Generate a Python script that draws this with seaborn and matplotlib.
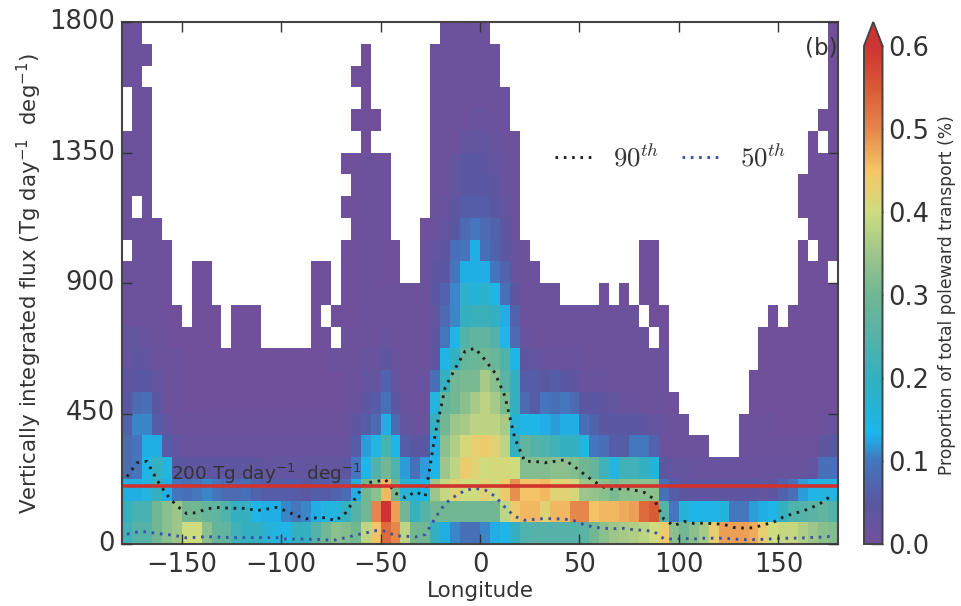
#!/usr/bin/env python3
"""
Poleward transport by longitude and vertically integrated flux, with percentile lines.
"""

import numpy as np
import pandas as pd
import seaborn as sns
import matplotlib.pyplot as plt
from matplotlib.colors import LinearSegmentedColormap

_ = np.nan

# cell values in hundredths of a percent, rows from the lowest flux bin upward, 72 longitude bins
r00 = [22,25,25,30,33,35,40,40,33,28,27,22, 20,20,17,15,14,20,20,25,30,33,32,30, 38,45,53,50,38,30,30,20,13,11,9,9, 11,13,14,20,24,25,25,25,25,25,26,30, 33,35,36,37,38,40,44,33,30,33,36,43, 48,48,48,47,43,40,39,39,37,35,33,32]
r01 = [20,23,23,30,33,35,30,30,28,27,24,20, 20,14,13,13,11,10,11,13,15,15,20,25, 30,50,60,48,30,20,25,30,30,30,30,30, 30,30,38,44,46,46,42,46,46,50,50,45, 46,46,47,48,53,55,25,10,16,14,14,14, 16,10,10,12,13,14,20,24,25,26,27,25]
r02 = [13,13,15,20,13,10,9,10,11,10,8,8, 9,7,6,6,6,6,5,6,6,7,8,13, 30,33,46,30,17,16,14,35,39,42,40,40, 42,40,44,49,45,45,46,42,42,41,35,34, 33,31,33,33,33,33,9,6,4,4,4,4, 4,4,4,4,3,4,7,9,12,14,15,15]
r03 = [8,10,14,20,15,5,4,4,4,4,4,4, 4,4,3,3,3,3,3,3,3,3,4,10, 14,25,30,24,12,9,12,14,35,38,44,42, 40,41,41,40,32,32,32,33,33,32,30,28, 22,15,22,22,20,16,4,3,3,2,2,2, 2,2,2,2,2,2,2,2,2,3,9,9]
r04 = [8,10,13,13,6,3,2,2,2,2,2,2, 2,2,2,2,2,2,2,2,2,2,2,6, 12,15,23,14,6,5,5,13,33,37,41,43, 44,42,38,20,27,25,24,22,20,20,15,10, 9,6,6,10,10,7,1,1,1,1,1,_, _,_,1,1,1,1,1,1,1,1,4,5]
r05 = [7,11,11,6,3,1,1,1,1,1,1,1, 1,1,1,1,1,1,1,1,1,1,1,4, 6,8,13,8,3,2,2,20,30,35,36,38, 38,38,36,16,14,14,13,12,13,13,9,7, 5,5,5,5,4,3,2,1,1,_,_,_, _,_,1,1,1,1,0,0,0,0,1,2]
r06 = [5,8,9,5,1,1,0,0,0,0,0,0, 0,0,0,0,0,0,0,0,0,0,1,2, 4,6,9,5,2,1,1,15,28,30,33,36, 38,36,31,20,8,6,10,9,10,8,5,5, 4,3,2,2,1,1,1,0,_,_,_,_, _,_,_,0,0,0,0,0,0,0,0,0]
r07 = [4,5,5,3,1,1,0,0,0,0,0,0, 0,0,0,0,0,0,0,0,0,0,1,1, 3,3,7,3,1,1,2,9,20,30,31,31, 36,33,26,20,6,6,5,6,5,4,2,2, 2,1,1,1,1,1,1,_,_,_,_,_, _,_,_,0,0,0,0,0,0,0,0,0]
r08 = [3,4,3,1,1,1,0,0,0,0,0,0, 0,0,0,0,0,0,0,0,0,1,1,1, 2,2,4,2,1,1,1,4,14,20,28,29, 30,29,24,14,4,3,2,2,2,2,1,1, 1,1,1,1,1,1,1,_,_,_,_,_, _,_,_,_,0,0,0,0,0,0,0,0]
r09 = [3,3,2,1,1,0,0,0,0,0,_,0, 0,0]+[_]*5+[0,0,_, 1,1,1,1,2,1,1,1,1,4,10,14,25,27, 27,25,14,8,2,1,1,1,1,1,1,1, 1,1,1,1,1,_,0]+[_]*9+[0]*8
r10 = [1,1,1,1,0,0,_,0,0,0,_,0, 0,0]+[_]*5+[0,_,0, 0,0,1,1,1,1,1,1,1,3,8,11,20,21, 21,20,13,7,1,1,1,1,1,1,1,1, 1,1,1,1,_,0,0]+[_]*10+[0,_,0,0,0,0,0]
r11 = [1,1,1,1,0,_,_,0,0]+[_]*10+[0,0,_, 0,0,1,1,1,1,1,1,1,5,7,11,18,16, 18,14,9,4,1,1,1,1]+[_]*4+[0,_,0,_,0,0]+[_]*14+[0,0,0,0]
r12 = [1,1,1,1,0,_,_,0,0]+[_]*10+[0,0,_, 0,0,1,1,0,0]+[_]*2+[1,4,5,10,13,13, 13,10,7,2,1,1]+[_]*10+[0,0]+[_]*14+[0,0,0,_]
r13 = [_,1,1,1,0]+[_]*17+[0,0,1,1,0,0]+[_]*2+[1,3,4,9,10,13, 9,7,5,2,1]+[_]*11+[0,0]+[_]*14+[0,_,0,0]
r14 = [1,1,1,1]+[_]*19+[0,1,1,0]+[_]*3+[0,1,3,5,8,10, 8,7,4,1]+[_]*29+[0,0,0]
r15 = [1,_,1]+[_]*19+[0,0,1,1,0]+[_]*4+[1,2,4,6,6, 6,5,3,1]+[_]*28+[0,0,0,0]
r16 = [1,1,1]+[_]*20+[0,1,1,0]+[_]*4+[1,1,3,5,5, 5,4,2,1]+[_]*28+[0,0,0,0]
r17 = [1,1,1]+[_]*19+[0,0,1,1,0]+[_]*4+[1,1,3,5,5, 4,3,2,1]+[_]*29+[0,0,0]
r18 = [1,1,1]+[_]*21+[0]+[_]*6+[1,1,1,3,3, 3,2,1,1]+[_]*29+[0,_,0]
r19 = [_,1,1]+[_]*20+[0,0,0]+[_]*5+[1,1,1,1,2, 2,1,1]+[_]*31+[0,0]
r20 = [_,1,1]+[_]*21+[0]+[_]*6+[1,1,1,1,1, 1,1,1]+[_]*32+[0]
r21 = [1,1]+[_]*21+[0,0]+[_]*6+[1,1,1,1,1,1, 1]+[_]*33+[0]
r22 = [1,1,1]+[_]*21+[0]+[_]*6+[1,1,1,1,1,1, 1]+[_]*33+[0]
r23 = [1,1]+[_]*30+[1,1,1,1, 1]+[_]*34+[0]
flux_rows = [r00,r01,r02,r03,r04,r05,r06,r07,r08,r09,r10,r11,r12,r13,r14,r15,r16,r17,r18,r19,r20,r21,r22,r23]

lon_centres = np.arange(-177.5, 180, 5)
flux_bins = np.arange(37.5, 1800, 75)

p90 = [232,280,285,222,170,132,105,108,121,126,124,123, 123,115,120,126,114,98,87,90,91,80,108,160,
       211,215,222,175,160,180,165,380,540,605,665,675, 635,590,510,365,285,285,280,285,290,267,240,215,
       195,188,192,186,178,155,85,63,78,71,72,70, 68,57,55,56,66,75,93,105,114,128,145,172]
p50 = [34,41,42,36,33,28,21,23,25,24,23,22, 22,22,22,22,17,17,17,16,14,14,22,31,
       38,46,44,28,27,24,33,90,140,165,185,192, 186,165,127,95,82,85,88,87,86,80,66,58,
       54,53,54,49,47,43,18,17,19,17,20,20, 20,17,15,15,16,18,20,20,21,23,24,27]

x_ticks = [-150, -100, -50, 0, 50, 100, 150]
y_ticks = [0, 450, 900, 1350, 1800]
cbar_ticks = [0.0, 0.1, 0.2, 0.3, 0.4, 0.5, 0.6]
threshold = 200

cmap_colors = [(0.0, "#70509B"), (0.05, "#5A58A3"), (0.10, "#4277BE"), (0.133, "#1DB5EA"),
               (0.20, "#34B0C0"), (0.25, "#55B2A8"), (0.30, "#70B794"), (0.35, "#9DC68A"),
               (0.40, "#CEDC7E"), (0.45, "#F5C568"), (0.50, "#E5874A"), (0.55, "#D85B35"),
               (0.60, "#CE3333")]

sns.set_theme(style="white")
plt.rcParams["font.family"] = ["DejaVu Sans"]
plt.rcParams["mathtext.fontset"] = "cm"
plt.rcParams["mathtext.default"] = "regular"

cmap = LinearSegmentedColormap.from_list("transport", [(v / 0.6, c) for v, c in cmap_colors])
cmap.set_over("#CE3333")
cmap.set_bad("white")

W, H = 961, 606
fig = plt.figure(figsize=(W / 100, H / 100), dpi=100)
ax = fig.add_axes([122 / W, 1 - 544 / H, 716 / W, 522 / H])
cax = fig.add_axes([864 / W, 1 - 544 / H, 18.5 / W, 522 / H])

grid = pd.DataFrame(np.array(flux_rows, dtype=float) / 100, index=flux_bins, columns=lon_centres)
sns.heatmap(grid, ax=ax, cmap=cmap, vmin=0, vmax=0.6, cbar_ax=cax,
            cbar_kws=dict(extend="max", extendfrac=0.048, ticks=cbar_ticks),
            xticklabels=False, yticklabels=False)
ax.set_ylim(0, len(flux_bins))
ax.set_axisbelow(False)

ink = "#333333"
lines = pd.DataFrame(dict(x=(lon_centres + 180) / 5, p90=np.array(p90) / 75, p50=np.array(p50) / 75))
sns.lineplot(data=lines, x="x", y="p90", ax=ax, color="#222222", lw=2.1, ls=(0, (0.9, 1.95)),
             estimator=None, label=r"$\mathrm{90}^{\mathit{th}}$")
sns.lineplot(data=lines, x="x", y="p50", ax=ax, color="#3F4FA8", lw=2.1, ls=(0, (0.9, 1.95)),
             estimator=None, label=r"$\mathrm{50}^{\mathit{th}}$")
ax.axhline(threshold / 75, color="#D0322D", lw=2.6)
ax.text((-155.5 + 180) / 5, 199 / 75, r"200 Tg day$^{-1}$  deg$^{-1}$", fontsize=13.3, color=ink, va="bottom")
ax.text(0.999, 0.95, "(b)", transform=ax.transAxes, fontsize=16.5, color=ink, ha="right", va="center")

ax.set_xticks([(t + 180) / 5 for t in x_ticks])
ax.set_xticklabels([str(t).replace("-", "\u2212") for t in x_ticks], rotation=0)
ax.set_yticks([t / 75 for t in y_ticks])
ax.set_yticklabels([str(t) for t in y_ticks], rotation=0, va="center")
ax.tick_params(direction="in", length=7, width=1, colors=ink, labelsize=18.5, top=True, right=True,
               bottom=True, left=True, pad=6)
ax.tick_params(axis="y", pad=5)
ax.set_xlabel("Longitude", fontsize=15.5, color=ink, labelpad=2, visible=True)
ax.set_ylabel(r"Vertically integrated flux (Tg day$^{-1}$  deg$^{-1}$)", fontsize=15.4, color=ink, labelpad=4, visible=True)
for spine in ax.spines.values():
    spine.set_visible(True)
    spine.set_color("#444444")
    spine.set_linewidth(1.5)

ax.legend(loc="center left", bbox_to_anchor=((555 - 122) / 716, (544 - 158) / 522), ncols=2, frameon=False,
          fontsize=19.4, borderpad=0, borderaxespad=0, handlelength=1.4, columnspacing=0.85,
          handletextpad=0.75, labelcolor=ink)

cbar = ax.collections[0].colorbar
cbar.set_ticklabels([f"{t:.1f}" for t in cbar_ticks])
cbar.ax.tick_params(direction="in", length=9, width=1, colors=ink, labelsize=18.5, right=True, pad=4)
cbar.outline.set_edgecolor("#444444")
cbar.outline.set_linewidth(1.4)
cbar.set_label("Proportion of total poleward transport (%)", fontsize=12.3, color=ink, labelpad=6)

fig.savefig("out.png", dpi=100)
plt.close(fig)
